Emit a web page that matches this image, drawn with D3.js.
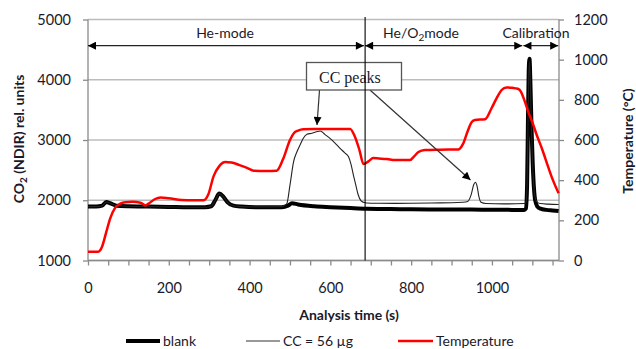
<!DOCTYPE html>
<html>
<head>
<meta charset="utf-8">
<script src="https://cdn.jsdelivr.net/npm/d3@7"></script>
<style>
  html, body { margin: 0; padding: 0; background: #fff; }
  svg { display: block; }
  text { font-family: Lato, "Open Sans", sans-serif; fill: #1a1a2a; }
</style>
</head>
<body>
<svg id="chart" width="636" height="349"></svg>
<script>
// ---------- data ----------
const blankTime = [0,20,35,45,55,70,100,150,200,250,290,305,315,325,335,345,360,380,420,480,495,505,520,560,600,650,690,750,800,850,900,950,1000,1050,1080,1084,1087,1089,1091,1093,1095,1098,1101,1104,1107,1112,1120,1135,1150,1165];
const blankValue = [1895,1895,1910,1970,1950,1910,1900,1895,1890,1885,1885,1900,2000,2110,2060,1970,1910,1895,1885,1885,1910,1950,1930,1900,1885,1870,1860,1855,1850,1848,1846,1845,1843,1840,1840,1860,2250,3250,4150,4350,4000,3200,2600,2200,2000,1900,1860,1840,1830,1820];

const ccTime = [0,20,35,45,55,70,100,150,200,250,290,305,315,325,335,345,360,380,420,480,492,500,509,517,525,533,542,554,566,575,587,599,612,624,635,645,651,657,663,669,676,682,690,720,760,800,850,900,927,940,948,955,959,963,968,973,985,1030,1080,1084,1087,1089,1091,1093,1095,1098,1101,1104,1107,1112,1120,1140,1165];
const ccValue = [1895,1895,1910,1970,1950,1910,1900,1895,1890,1885,1885,1900,2000,2110,2060,1970,1910,1895,1890,1895,1940,2250,2640,2800,2917,3030,3095,3111,3138,3150,3090,3028,2945,2862,2790,2723,2600,2419,2250,2087,1990,1966,1955,1950,1948,1950,1955,1958,1966,1980,2080,2260,2300,2240,2050,1965,1945,1940,1945,1960,2250,3200,4050,4300,3950,3150,2550,2200,2040,1970,1945,1935,1930];

const tempTime = [0,25,35,45,55,67,80,92,110,130,142,150,165,180,200,232,260,286,298,311,325,340,355,375,395,410,440,467,483,500,510,520,533,560,600,649,660,672,682,695,706,720,740,760,797,808,818,834,870,917,929,941,950,958,983,999,1012,1024,1036,1050,1064,1072,1080,1090,1101,1110,1125,1139,1150,1165];
const tempValue = [44,44,70,140,210,262,283,290,292,288,274,283,305,314,310,301,300,300,330,420,470,490,488,475,460,447,446,447,505,600,635,647,654,655,655,655,620,550,480,495,510,508,505,500,500,520,540,550,552,553,583,650,690,700,703,758,810,849,862,860,855,840,800,740,683,630,550,467,405,335];

const leftTicks = [1000,2000,3000,4000,5000];
const rightTicks = [0,200,400,600,800,1000,1200];
const xTickLabels = [0,200,400,600,800,1000];
const xMinorTicks = d3.range(0, 1151, 50);
const modeBoundary = 686;
const seriesNames = ["blank", "CC = 56 µg", "Temperature"];

// ---------- layout ----------
const svg = d3.select("#chart");
const L = 88, R = 559, T = 19.5, B = 260.5;
const x = d3.scaleLinear().domain([0, 1166]).range([L, R]);
const yL = d3.scaleLinear().domain([1000, 5000]).range([B, T]);
const yR = d3.scaleLinear().domain([0, 1200]).range([B, T]);

// gridlines
svg.append("g").selectAll("line").data(leftTicks).join("line")
  .attr("x1", L).attr("x2", R)
  .attr("y1", d => yL(d)).attr("y2", d => yL(d))
  .attr("stroke", "#bcbcbc").attr("stroke-width", 1.3);

// axes
const axisColor = "#8a8a8a";
const gL = svg.append("g").attr("transform", `translate(${L},0)`)
  .call(d3.axisLeft(yL).tickValues(leftTicks).tickSize(5).tickPadding(12).tickFormat(d3.format("d")));
const gR = svg.append("g").attr("transform", `translate(${R},0)`)
  .call(d3.axisRight(yR).tickValues(rightTicks).tickSize(5).tickPadding(10).tickFormat(d3.format("d")));
const gX = svg.append("g").attr("transform", `translate(0,${B})`)
  .call(d3.axisBottom(x).tickValues(xMinorTicks).tickSize(5).tickPadding(17)
    .tickFormat(d => xTickLabels.includes(d) ? String(d) : ""));
[gL, gR, gX].forEach(g => {
  g.select(".domain").attr("stroke", axisColor).attr("stroke-width", 1.3);
  g.selectAll(".tick line").attr("stroke", axisColor).attr("stroke-width", 1.3);
  g.selectAll(".tick text").style("font-family", "Lato, sans-serif").style("font-size", "14.5px").attr("fill", "#1e2235");
});
gL.select(".domain").attr("d", `M0,${B}V${T}`);
gR.select(".domain").attr("d", `M0,${B}V${T}`);
gX.select(".domain").attr("d", `M${L},0H${R}`);

// series
const lineGen = (ys) => d3.line().x(d => x(d[0])).y(d => ys(d[1])).curve(d3.curveMonotoneX);
const blankData = blankTime.map((t, i) => [t, blankValue[i]]);
const ccData = ccTime.map((t, i) => [t, ccValue[i]]);
const tempData = tempTime.map((t, i) => [t, tempValue[i]]);

svg.append("path").datum(blankData).attr("d", lineGen(yL))
  .attr("fill", "none").attr("stroke", "#000").attr("stroke-width", 4).attr("stroke-linejoin", "round");
svg.append("path").datum(ccData).attr("d", lineGen(yL))
  .attr("fill", "none").attr("stroke", "#222").attr("stroke-width", 1.1);
svg.append("path").datum(tempData).attr("d", lineGen(yR))
  .attr("fill", "none").attr("stroke", "#ff0000").attr("stroke-width", 2.5).attr("stroke-linejoin", "round");

// markers
const defs = svg.append("defs");
defs.append("marker").attr("id", "ah").attr("viewBox", "0 0 10 10")
  .attr("refX", 10).attr("refY", 5).attr("markerUnits", "userSpaceOnUse")
  .attr("markerWidth", 9).attr("markerHeight", 8).attr("orient", "auto-start-reverse")
  .append("path").attr("d", "M0,0L10,5L0,10Z").attr("fill", "#000");

// mode arrows
const modes = [
  {label: "He-mode", a: 0, b: 683},
  {label: "He/O₂mode", a: 686, b: 1075},
  {label: "Calibration", a: 1078, b: 1164}
];
const arrowY = 45.7;
svg.append("g").selectAll("line").data(modes).join("line")
  .attr("x1", d => x(d.a)).attr("x2", d => x(d.b))
  .attr("y1", arrowY).attr("y2", arrowY)
  .attr("stroke", "#222").attr("stroke-width", 1.2)
  .attr("marker-start", "url(#ah)").attr("marker-end", "url(#ah)");

svg.append("text").attr("x", 225).attr("y", 38).attr("text-anchor", "middle")
  .style("font-size", "14px").text("He-mode");
const heo = svg.append("text").attr("x", 421).attr("y", 38).attr("text-anchor", "middle")
  .style("font-size", "14px");
heo.append("tspan").text("He/O");
heo.append("tspan").attr("font-size", "10px").attr("dy", 3).text("2");
heo.append("tspan").attr("dy", -3).text("mode");
svg.append("text").attr("x", 536).attr("y", 38).attr("text-anchor", "middle")
  .style("font-size", "14px").text("Calibration");

// CC peaks callout
svg.append("line").attr("x1", 319.5).attr("y1", 90).attr("x2", 317).attr("y2", 125)
  .attr("stroke", "#333").attr("stroke-width", 1.2).attr("marker-end", "url(#ah)");
svg.append("line").attr("x1", 370).attr("y1", 90).attr("x2", 470.5).attr("y2", 180)
  .attr("stroke", "#333").attr("stroke-width", 1.2).attr("marker-end", "url(#ah)");
svg.append("rect").attr("x", 306.5).attr("y", 62.5).attr("width", 95).attr("height", 27.5)
  .attr("fill", "#fff").attr("stroke", "#555").attr("stroke-width", 1.3);
svg.append("text").attr("x", 319).attr("y", 83).style("font-family", "'Liberation Serif', 'DejaVu Serif', serif")
  .style("font-size", "16px").attr("fill", "#1a1a3a").text("CC peaks");

// mode boundary
svg.append("line").attr("x1", x(modeBoundary)).attr("x2", x(modeBoundary))
  .attr("y1", 17).attr("y2", B).attr("stroke", "#000").attr("stroke-width", 1.1);

// axis titles
const yt = svg.append("text").attr("transform", "translate(24,139) rotate(-90)")
  .attr("text-anchor", "middle").style("font-size", "14px").style("font-weight", "bold");
yt.append("tspan").text("CO");
yt.append("tspan").attr("font-size", "10px").attr("dy", 3).text("2");
yt.append("tspan").attr("dy", -3).text(" (NDIR) rel. units");

svg.append("text").attr("transform", "translate(633,141) rotate(-90)")
  .attr("text-anchor", "middle").style("font-size", "14px").style("font-weight", "bold")
  .text("Temperature (°C)");

svg.append("text").attr("x", 349).attr("y", 320).attr("text-anchor", "middle")
  .style("font-size", "14px").style("font-weight", "bold").text("Analysis time (s)");

// legend
const legend = [
  {name: seriesNames[0], x1: 126, x2: 160, color: "#000", w: 4},
  {name: seriesNames[1], x1: 246, x2: 280, color: "#333", w: 1.1},
  {name: seriesNames[2], x1: 398, x2: 433, color: "#ff0000", w: 2.5}
];
const lg = svg.append("g").selectAll("g").data(legend).join("g");
lg.append("line").attr("x1", d => d.x1).attr("x2", d => d.x2).attr("y1", 341).attr("y2", 341)
  .attr("stroke", d => d.color).attr("stroke-width", d => d.w);
lg.append("text").attr("x", d => d.x2 + 3).attr("y", 346).style("font-size", "14px").text(d => d.name);
</script>
</body>
</html>
